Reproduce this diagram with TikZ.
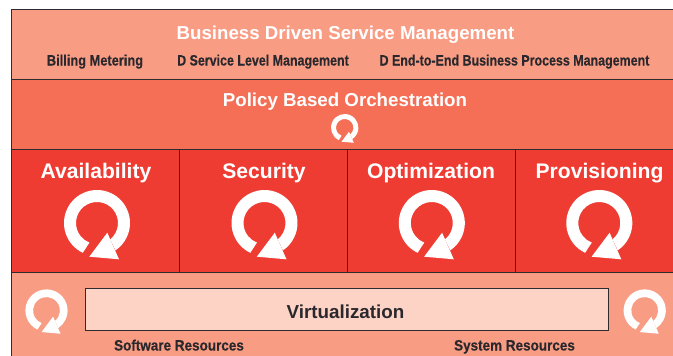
\documentclass[tikz,border=0pt]{standalone}
\usepackage{fontspec}
\setmainfont{Liberation Sans}[BoldFont={Liberation Sans Bold}]
\newfontfamily\narrowa{Liberation Sans Bold}[FakeStretch=0.855,FakeBold=0.25]
\newfontfamily\narrowb{Liberation Sans Bold}[FakeStretch=0.83,FakeBold=0.25]
\newfontfamily\narrowc{Liberation Sans Bold}[FakeStretch=0.9,FakeBold=0.25]
\definecolor{linedark}{HTML}{2E2B2E}
\definecolor{bandlight}{HTML}{F89C84}
\definecolor{bandmid}{HTML}{F46F56}
\definecolor{bandred}{HTML}{EF3C33}
\definecolor{boxpale}{HTML}{FCD3C5}
\definecolor{textdark}{HTML}{2A282C}
\tikzset{
  x=1pt,y=-1pt,
  band/.style={draw=linedark,line width=1.2pt,anchor=north west,inner sep=0pt,outer sep=0pt},
  whitehead/.style={anchor=base,text=white,font=\fontsize{18.7}{20}\selectfont\bfseries,inner sep=0pt},
  cellhead/.style={anchor=base,text=white,font=\fontsize{21.1}{22}\selectfont\bfseries,inner sep=0pt},
  smalldark/.style={anchor=base,text=textdark,inner sep=0pt},
  loopicon/.pic={
    \begin{scope}[y=1pt]
    \fill[white] (244.5:33) arc[start angle=244.5,end angle=-56,radius=33]
      -- (-51:21)
      arc[start angle=-51,end angle=249,radius=21] -- cycle;
    \fill[white] (-7.7,-33.7) -- (10.3,-9.7) -- (22,-36.3) -- cycle;
    \end{scope}
  }
}
\begin{document}
\begin{tikzpicture}
\useasboundingbox (0,0) rectangle (673,356);
\fill[white] (0,0) rectangle (673,356);
\node[band,fill=bandlight,minimum width=665pt,minimum height=70pt] (top) at (11.5,9.5) {};
\node[band,fill=bandmid,minimum width=665pt,minimum height=70pt] (mid) at (11.5,79.5) {};
\node[band,fill=bandred,minimum width=168pt,minimum height=123pt] (c1) at (11.5,149.5) {};
\node[band,fill=bandred,minimum width=168pt,minimum height=123pt] (c2) at (179.5,149.5) {};
\node[band,fill=bandred,minimum width=168pt,minimum height=123pt] (c3) at (347.5,149.5) {};
\node[band,fill=bandred,minimum width=168pt,minimum height=123pt] (c4) at (515.5,149.5) {};
\node[band,fill=bandlight,minimum width=665pt,minimum height=90pt] (bot) at (11.5,272.5) {};
\node[band,line width=1pt,fill=boxpale,minimum width=522.5pt,minimum height=42pt] (virt) at (85.5,288) {};
\node[whitehead] (t1) at (345.5,39) {Business Driven Service Management};
\node[smalldark,font=\fontsize{15}{17}\selectfont\narrowa] (s1) at (95,65.5) {Billing Metering};
\node[smalldark,font=\fontsize{15}{17}\selectfont\narrowb] (s2) at (263,65.5) {D Service Level Management};
\node[smalldark,font=\fontsize{15}{17}\selectfont\narrowb] (s3) at (514.5,65.5) {D End-to-End Business Process Management};
\node[whitehead] (t2) at (345,106) {Policy Based Orchestration};
\node[cellhead] (h1) at (96,178) {Availability};
\node[cellhead] (h2) at (264,178) {Security};
\node[cellhead] (h3) at (431,178) {Optimization};
\node[cellhead] (h4) at (599.5,178) {Provisioning};
\node[anchor=base,text=textdark,font=\fontsize{18.8}{20}\selectfont\bfseries,inner sep=0pt] (v) at (345.5,318) {Virtualization};
\node[smalldark,font=\fontsize{15}{17}\selectfont\narrowc] (s4) at (179,350.5) {Software Resources};
\node[smalldark,font=\fontsize{15}{17}\selectfont\narrowc] (s5) at (514.5,350.5) {System Resources};
\pic[scale=.415] at (344.7,127.7) {loopicon};
\pic at (97,223) {loopicon};
\pic at (264.5,223) {loopicon};
\pic at (431.8,223) {loopicon};
\pic at (599.3,223) {loopicon};
\pic[scale=.64] at (46.5,310.5) {loopicon};
\pic[scale=.64] at (644.7,310.5) {loopicon};
\end{tikzpicture}
\end{document}
